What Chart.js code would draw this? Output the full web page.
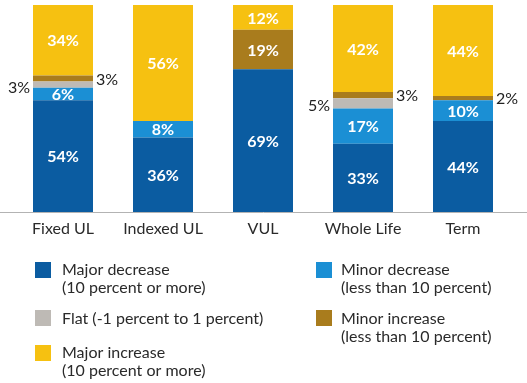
<!DOCTYPE html>
<html>
<head>
<meta charset="utf-8">
<script src="https://cdn.jsdelivr.net/npm/chart.js@4.4.0/dist/chart.umd.min.js"></script>
<style>
  html, body { margin: 0; padding: 0; background: #ffffff; }
  #wrap { width: 527px; height: 383px; position: relative; }
</style>
</head>
<body>
<div id="wrap"><canvas id="c" width="527" height="383"></canvas></div>
<script>
const categories = ["Fixed UL", "Indexed UL", "VUL", "Whole Life", "Term"];
const majorDecrease = [54, 36, 69, 33, 44];
const minorDecrease = [6, 8, 0, 17, 10];
const flat = [3, 0, 0, 5, 0];
const minorIncrease = [3, 0, 19, 3, 2];
const majorIncrease = [34, 56, 12, 42, 44];
const seriesLabels = [
  ["Major decrease", "(10 percent or more)"],
  ["Minor decrease", "(less than 10 percent)"],
  ["Flat (-1 percent to 1 percent)"],
  ["Minor increase", "(less than 10 percent)"],
  ["Major increase", "(10 percent or more)"]
];
const seriesColors = ["#0b5ca1", "#1b8fd4", "#bebab5", "#a97c1d", "#f6c111"];

const FONT = "Lato, 'Open Sans', sans-serif";

const labelPlugin = {
  id: 'valueLabels',
  afterDatasetsDraw(chart) {
    const ctx = chart.ctx;
    const area = chart.chartArea;
    ctx.save();
    ctx.strokeStyle = '#b3b3b3';
    ctx.lineWidth = 1;
    ctx.beginPath();
    ctx.moveTo(0, Math.round(area.bottom) + 0.5);
    ctx.lineTo(chart.width, Math.round(area.bottom) + 0.5);
    ctx.stroke();

    chart.data.datasets.forEach((ds, di) => {
      const meta = chart.getDatasetMeta(di);
      meta.data.forEach((bar, i) => {
        const v = ds.data[i];
        if (!v) return;
        const p = bar.getProps(['x', 'y', 'base', 'width'], true);
        const cy = (p.y + p.base) / 2;
        const txt = v + '%';
        if (v >= 6) {
          ctx.fillStyle = '#ffffff';
          ctx.font = "bold 16px " + FONT;
          ctx.textAlign = 'center';
          ctx.textBaseline = 'middle';
          ctx.fillText(txt, p.x, cy + 1);
        } else {
          ctx.fillStyle = '#222222';
          ctx.font = "16px " + FONT;
          ctx.textBaseline = 'middle';
          if (di === 2) {
            ctx.textAlign = 'right';
            ctx.fillText(txt, p.x - p.width / 2 - 3, cy + 3);
          } else {
            ctx.textAlign = 'left';
            ctx.fillText(txt, p.x + p.width / 2 + 3, cy + 1);
          }
        }
      });
    });
    ctx.restore();
  },
  afterDraw(chart) {
    const ctx = chart.ctx;
    ctx.save();
    const pos = [
      { bx: 35, by: 262, tx: 62, ty: 275 },
      { bx: 316, by: 262, tx: 341, ty: 275 },
      { bx: 35, by: 310, tx: 62, ty: 324 },
      { bx: 316, by: 310, tx: 341, ty: 324 },
      { bx: 35, by: 345, tx: 62, ty: 358 }
    ];
    chart.data.datasets.forEach((ds, di) => {
      const q = pos[di];
      ctx.fillStyle = ds.backgroundColor;
      ctx.fillRect(q.bx, q.by, 16, 16);
      ctx.fillStyle = '#2a2a2a';
      ctx.font = "16px " + FONT;
      ctx.textAlign = 'left';
      ctx.textBaseline = 'alphabetic';
      seriesLabels[di].forEach((line, li) => {
        ctx.fillText(line, q.tx, q.ty + li * 18);
      });
    });
    ctx.restore();
  }
};

const seriesData = [majorDecrease, minorDecrease, flat, minorIncrease, majorIncrease];

new Chart(document.getElementById('c'), {
  type: 'bar',
  data: {
    labels: categories,
    datasets: seriesData.map((d, i) => ({
      label: seriesLabels[i].join(' '),
      data: d,
      backgroundColor: seriesColors[i],
      borderWidth: 0,
      barPercentage: 1.0,
      categoryPercentage: 0.6
    }))
  },
  options: {
    responsive: false,
    animation: false,
    devicePixelRatio: 1,
    layout: { padding: { left: 13, right: 14, top: 5, bottom: 0 } },
    plugins: { legend: { display: false }, tooltip: { enabled: false } },
    scales: {
      x: {
        stacked: true,
        grid: { display: false, drawTicks: false },
        border: { display: false },
        ticks: { color: '#2a2a2a', font: { family: FONT, size: 16 }, padding: 7, maxRotation: 0 },
        afterFit(scale) { scale.height = 171; }
      },
      y: {
        stacked: true,
        display: false,
        min: 0,
        max: 100
      }
    }
  },
  plugins: [labelPlugin]
});
</script>
</body>
</html>
